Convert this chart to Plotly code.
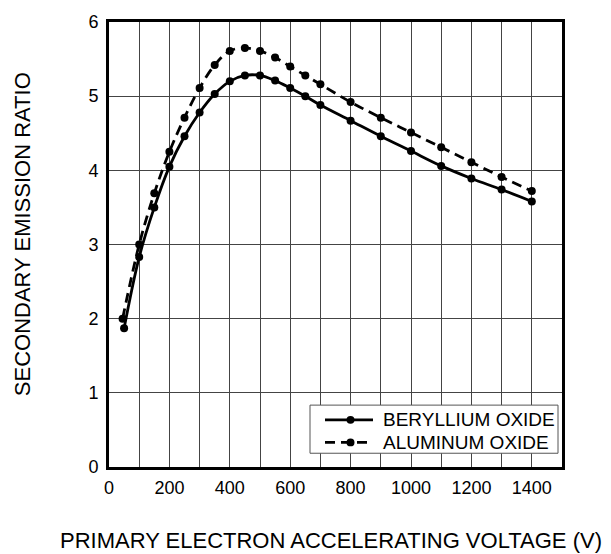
import plotly.graph_objects as go

voltage = [50, 100, 150, 200, 250, 300, 350, 400, 450, 500, 550, 600, 650, 700, 800, 900, 1000, 1100, 1200, 1300, 1400]
beryllium = [1.87, 2.83, 3.50, 4.05, 4.46, 4.78, 5.03, 5.20, 5.28, 5.28, 5.21, 5.11, 5.00, 4.88, 4.67, 4.46, 4.26, 4.06, 3.89, 3.74, 3.58]
voltage_al = [45, 100, 150, 200, 250, 300, 350, 400, 450, 500, 550, 600, 650, 700, 800, 900, 1000, 1100, 1200, 1300, 1400]
aluminum = [2.00, 3.00, 3.69, 4.25, 4.71, 5.11, 5.42, 5.61, 5.65, 5.61, 5.52, 5.40, 5.28, 5.16, 4.92, 4.71, 4.51, 4.31, 4.11, 3.91, 3.72]
series_names = ["BERYLLIUM OXIDE", "ALUMINUM OXIDE"]

x_ticks = [0, 200, 400, 600, 800, 1000, 1200, 1400]
y_ticks = [0, 1, 2, 3, 4, 5, 6]

FONT = "Liberation Sans, Arial, Helvetica, sans-serif"

W, H = 611, 554
PL, PR, PT, PB = 109, 562, 14, 467   # plot area in page px
pw, ph = PR - PL, PB - PT

def px(x):
    return (x - PL) / pw

def py(y):
    return (PB - y) / ph

DASH = "10px,6px"

fig = go.Figure()
fig.add_trace(go.Scatter(
    x=voltage, y=beryllium, name=series_names[0], mode="lines+markers",
    line=dict(color="black", width=2.8, shape="spline"),
    marker=dict(color="black", size=8), showlegend=False,
))
fig.add_trace(go.Scatter(
    x=voltage_al, y=aluminum, name=series_names[1], mode="lines+markers",
    line=dict(color="black", width=2.8, shape="spline", dash=DASH),
    marker=dict(color="black", size=8), showlegend=False,
))

# custom legend box (tight, like the reference)
shapes = [dict(type="rect", xref="paper", yref="paper",
               x0=px(310), x1=px(558), y0=py(453), y1=py(404),
               line=dict(color="#555", width=1), fillcolor="white", layer="above")]
annotations = []
for i, (name, dash) in enumerate(zip(series_names, ["solid", DASH])):
    yy = 419 + i * 23
    shapes.append(dict(type="line", xref="paper", yref="paper",
                       x0=px(325), x1=px(373), y0=py(yy), y1=py(yy),
                       line=dict(color="black", width=2.8, dash=dash), layer="above"))
    shapes.append(dict(type="circle", xref="paper", yref="paper",
                       x0=px(346.5), x1=px(354.5), y0=py(yy + 4), y1=py(yy - 4),
                       line=dict(color="black", width=0), fillcolor="black", layer="above"))
    annotations.append(dict(text=name, x=px(381), y=py(yy), xref="paper", yref="paper",
                            xanchor="left", yanchor="middle", showarrow=False,
                            font=dict(size=19)))

annotations += [
    dict(text="PRIMARY ELECTRON ACCELERATING VOLTAGE (V)", x=px(331), y=py(542),
         xref="paper", yref="paper", xanchor="center", yanchor="middle",
         showarrow=False, font=dict(size=22)),
    dict(text="SECONDARY EMISSION RATIO", x=px(22), y=py(230), textangle=-90,
         xref="paper", yref="paper", xanchor="center", yanchor="middle",
         showarrow=False, font=dict(size=22)),
]

fig.update_layout(
    width=W, height=H,
    margin=dict(l=PL, r=W - PR, t=PT, b=H - PB),
    paper_bgcolor="white", plot_bgcolor="white",
    font=dict(family=FONT, size=18, color="black"),
    showlegend=False,
    hovermode=False,
    shapes=shapes,
    annotations=annotations,
)

fig.update_xaxes(
    range=[0, 1500], tickvals=x_ticks,
    showgrid=True, gridcolor="#444", gridwidth=1,
    showline=True, linecolor="black", linewidth=3, mirror=True,
    ticks="", zeroline=False, ticklabelstandoff=2,
    minor=dict(dtick=100, tick0=0, showgrid=True, gridcolor="#444", gridwidth=1),
)
fig.update_yaxes(
    range=[0, 6], tickvals=y_ticks,
    showgrid=True, gridcolor="#444", gridwidth=1,
    showline=True, linecolor="black", linewidth=3, mirror=True,
    ticks="", zeroline=False, ticklabelstandoff=4,
)

fig.write_html("out.html", config={"displayModeBar": False},
               post_script="document.body.style.margin='0px';")
